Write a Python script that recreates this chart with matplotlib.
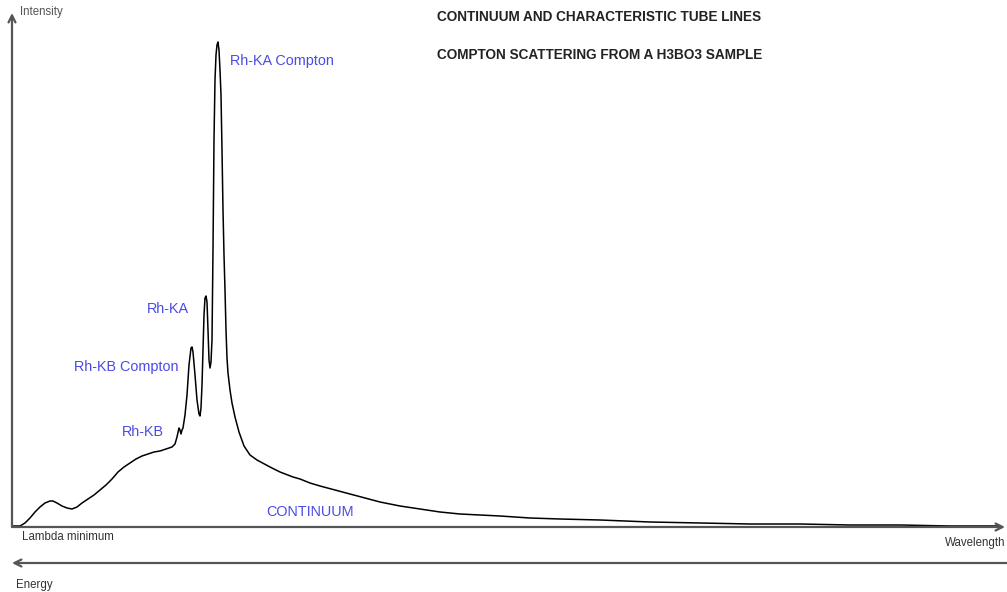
import matplotlib
matplotlib.use("Agg")
import matplotlib.pyplot as plt

# Spectrum of tube continuum plus Compton-scattered Rh lines (arbitrary units)
wavelength = [12, 20, 25, 30, 35, 40, 45, 50, 53, 57, 62, 67, 72, 77, 82, 88, 94,
              100, 106, 112, 118, 124, 130, 136, 142, 148, 154, 160, 166, 172,
              175, 177, 179, 180, 181, 182, 183, 185, 187, 189, 191, 192, 193,
              195, 197, 199, 200, 201, 202, 203, 204, 205, 206, 207, 208, 209,
              210, 211, 212, 213, 214, 215, 216, 217, 218, 219, 220, 221, 222,
              223, 224, 225, 226, 227, 228, 230, 232, 235, 239, 244, 250, 257,
              270, 280, 293, 300, 310, 320, 335, 350, 365, 380, 400, 420, 440, 460,
              480, 500, 530, 560, 600, 650, 700, 750, 800, 850, 900, 950, 1000]
intensity = [1, 1, 4, 9, 15, 20, 24, 26, 26, 24, 21, 19, 18, 20, 24, 28, 32,
             37, 42, 48, 55, 60, 64, 68, 71, 73, 75, 76, 78, 80,
             83, 90, 99, 97, 93, 97, 99, 112, 132, 162, 179, 180, 175,
             152, 127, 113, 111, 119, 142, 177, 212, 229, 231, 225, 197, 167,
             159, 165, 187, 277, 387, 447, 472, 482, 485, 477, 457, 432, 377,
             317, 272, 237, 197, 169, 154, 137, 124, 110, 95, 81, 72, 67,
             60, 55, 50, 48, 44, 41, 37, 33, 29, 25, 21, 18, 15, 13,
             12, 11, 9, 8, 7, 5, 4, 3, 3, 2, 2, 1, 1]

# Annotations: (text, x, y)
line_labels = [("Rh-KA Compton", 230, 466),
               ("Rh-KA", 147, 218),
               ("Rh-KB Compton", 74, 160),
               ("Rh-KB", 122, 95),
               ("CONTINUUM", 266, 15)]
title_lines = ["CONTINUUM AND CHARACTERISTIC TUBE LINES",
               "COMPTON SCATTERING FROM A H3BO3 SAMPLE"]

fig = plt.figure(figsize=(10.07, 5.92), dpi=100)
ax = fig.add_axes([0, 0, 1, 1])
ax.set_xlim(0, 1007)
ax.set_ylim(-65, 527)
ax.axis("off")

font = "Liberation Sans"
axis_col = "#555555"
label_col = "#4b4be6"

# Spectrum trace
ax.plot(wavelength, intensity, color="black", lw=1.1, solid_joinstyle="round")

# Intensity axis (up arrow) and wavelength axis (right arrow)
arrow = dict(arrowstyle="->,head_length=0.5,head_width=0.25", color=axis_col, lw=1.6,
             shrinkA=0, shrinkB=0)
ax.annotate("", xy=(12, 514), xytext=(12, 0), arrowprops=arrow)
ax.annotate("", xy=(1005, 0), xytext=(12, 0), arrowprops=arrow)
# Energy axis (left arrow)
ax.annotate("", xy=(12, -36), xytext=(1007, -36), arrowprops=arrow)

ax.text(20, 515, "Intensity", fontsize=8.3, family=font, color="#555555", va="center")
ax.text(22, -10, "Lambda minimum", fontsize=8.3, family=font, color="#333333", va="center")
ax.text(945, -16, "Wavelength", fontsize=8.3, family=font, color="#333333",
        va="center", ha="left")
ax.text(16, -58, "Energy", fontsize=8.3, family=font, color="#333333", va="center")

for txt, x, y in line_labels:
    ax.text(x, y, txt, fontsize=10.4, family=font, color=label_col, va="center")

for i, txt in enumerate(title_lines):
    ax.text(437, 510 - 38 * i, txt, fontsize=9.8, family=font, weight="bold",
            color="#222222", va="center")

fig.savefig("out.png", dpi=100)
